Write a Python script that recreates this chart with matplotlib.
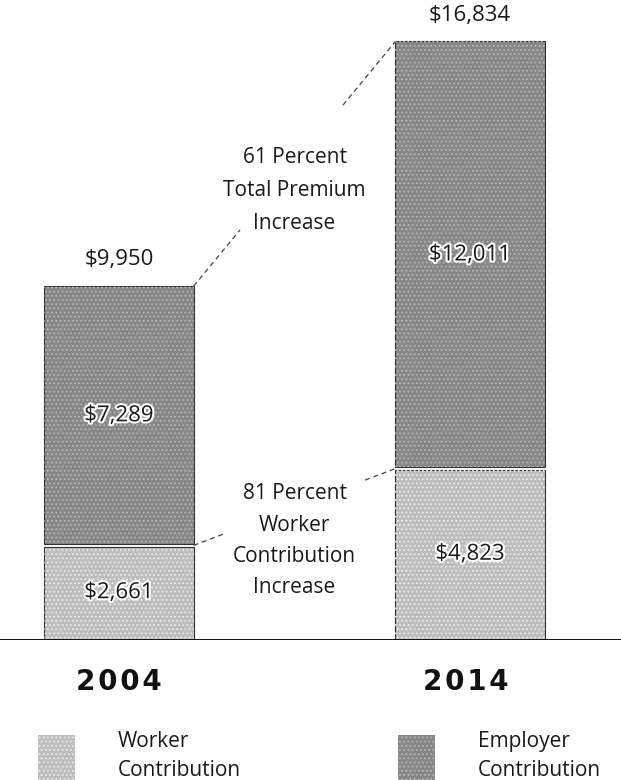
import matplotlib
matplotlib.use("Agg")
import matplotlib.pyplot as plt
from matplotlib.patches import Rectangle
import matplotlib.patheffects as pe

years = ["2004", "2014"]
worker = [2661, 4823]
employer = [7289, 12011]
totals = [9950, 16834]
worker_label = "Worker\nContribution"
employer_label = "Employer\nContribution"
note_total = "61 Percent\nTotal Premium\nIncrease"
note_worker = "81 Percent\nWorker\nContribution\nIncrease"

FONT = ["Open Sans", "DejaVu Sans"]
plt.rcParams["font.family"] = FONT
plt.rcParams["hatch.linewidth"] = 0.7

W_COL = "#bdbdbd"
E_COL = "#878787"
EDGE = "#333333"

fig = plt.figure(figsize=(6.21, 7.80), dpi=100)
ax = fig.add_axes([0, 140 / 780, 1, 640 / 780])
ax.set_xlim(-0.339, 1.430)
ax.set_ylim(0, 18000)
ax.axis("off")

x = [0, 1]
w = 0.425
gap = 40
for xi, wv, ev in zip(x, worker, employer):
    ax.bar(xi, wv - gap, width=w, color=W_COL, edgecolor=EDGE, linewidth=0.8)
    ax.bar(xi, wv - gap, width=w, color="none", edgecolor="#eeeeee", hatch="....", linewidth=0)
    ax.bar(xi, ev - gap, bottom=wv + gap, width=w, color=E_COL, edgecolor=EDGE, linewidth=0.8)
    ax.bar(xi, ev - gap, bottom=wv + gap, width=w, color="none", edgecolor="#b8b8b8", hatch="....", linewidth=0)

halo = [pe.withStroke(linewidth=3, foreground="white")]
for xi, wv, ev, tv in zip(x, worker, employer, totals):
    ax.text(xi, wv / 2, f"${wv:,}", ha="center", va="center", fontsize=16, color="#1a1a1a", path_effects=halo)
    ax.text(xi, wv + ev / 2, f"${ev:,}", ha="center", va="center", fontsize=16, color="#1a1a1a", path_effects=halo)
    ax.text(xi, tv + 740, f"${tv:,}", ha="center", va="center", fontsize=16, color="#1a1a1a")

ax.axhline(0, color="#111111", linewidth=1.4, zorder=5)

def dashed(y0, y1, t_ranges):
    x0, x1 = x[0] + w / 2, x[1] - w / 2
    for a, b in t_ranges:
        ax.plot([x0 + (x1 - x0) * a, x0 + (x1 - x0) * b],
                [y0 + (y1 - y0) * a, y0 + (y1 - y0) * b],
                ls=(0, (4, 3)), color="#444444", lw=0.9)

dashed(totals[0], totals[1], [(0, 0.23), (0.74, 1)])
dashed(worker[0], worker[1], [(0, 0.16), (0.85, 1)])

ax.text(0.5, 12650, note_total, ha="center", va="center", fontsize=15, linespacing=1.75, color="#1a1a1a")
ax.text(0.5, 2790, note_worker, ha="center", va="center", fontsize=15, linespacing=1.65, color="#1a1a1a")

for xi, yr in zip(x, years):
    fig.text((119 + 347 * xi) / 621, 1 - 682 / 780, "\u200a".join(yr), ha="center", va="center",
             fontsize=20, fontweight="bold", color="#111111", family=["DejaVu Sans"])

# legend
for px, col, hcol, lab in [(38, W_COL, "#eeeeee", worker_label), (398, E_COL, "#b8b8b8", employer_label)]:
    r = Rectangle((px / 621, 0), 37 / 621, 45 / 780, transform=fig.transFigure,
                  facecolor=col, edgecolor="none")
    fig.add_artist(r)
    r2 = Rectangle((px / 621, 0), 37 / 621, 45 / 780, transform=fig.transFigure,
                   facecolor="none", edgecolor=hcol, hatch="....", linewidth=0)
    fig.add_artist(r2)
    fig.text((px + 80) / 621, 1 - 756 / 780, lab, ha="left", va="center", fontsize=15,
             linespacing=1.55, color="#1a1a1a")

fig.savefig("out.png", dpi=100)
